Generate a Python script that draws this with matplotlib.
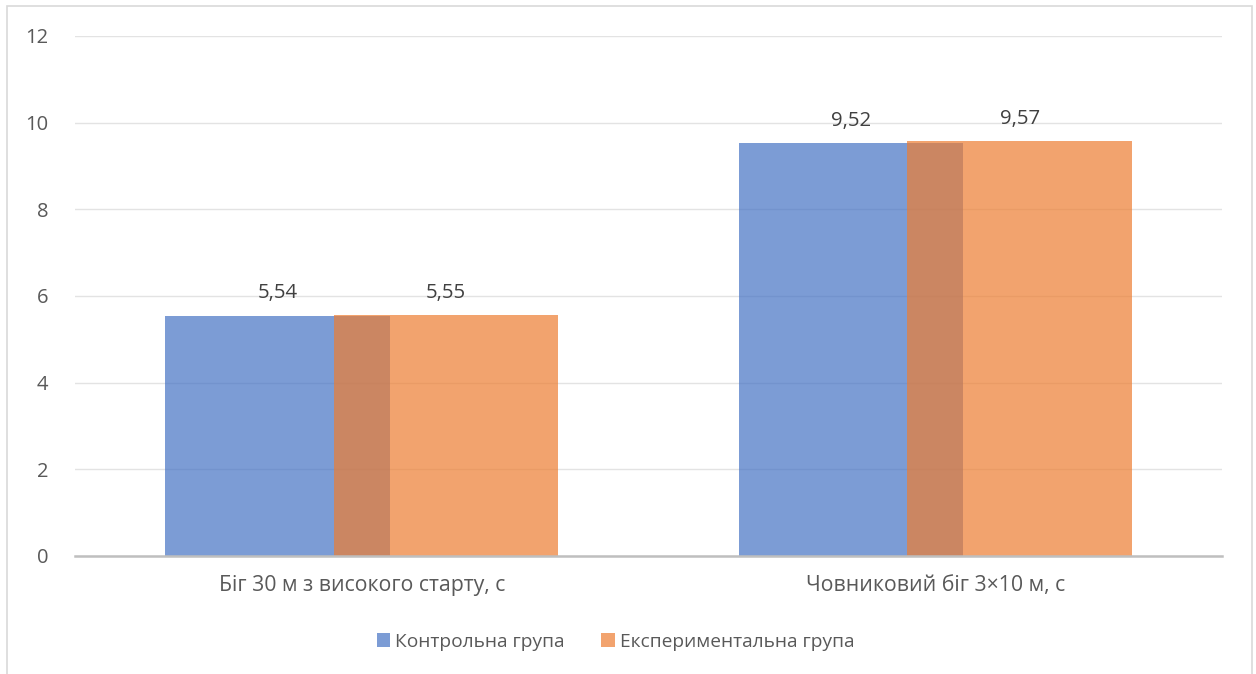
import matplotlib.pyplot as plt
import matplotlib.patches as mpatches
import numpy as np

plt.rcParams['font.family'] = ['Open Sans', 'DejaVu Sans']

# data
categories = ['Біг 30 м з високого старту, с', 'Човниковий біг 3×10 м, с']
series_names = ['Контрольна група', 'Експериментальна група']
control = [5.54, 9.52]
experimental = [5.55, 9.57]
y_ticks = [0, 2, 4, 6, 8, 10, 12]

colors = ['#4472C4', '#ED7D31']
alpha = 0.7
width = 0.392
offset = 0.147

fig = plt.figure(figsize=(12.56, 6.74), dpi=100)
ax = fig.add_axes([0.0597, 0.1751, 0.9133, 0.7715])

x = np.arange(len(categories))
b1 = ax.bar(x - offset, control, width, color=colors[0], alpha=alpha,
            label=series_names[0], zorder=2)
b2 = ax.bar(x + offset, experimental, width, color=colors[1], alpha=alpha,
            label=series_names[1], zorder=3)

# value labels with comma decimal separator
for bars, vals in [(b1, control), (b2, experimental)]:
    for rect, v in zip(bars, vals):
        ax.annotate(('%.2f' % v).replace('.', ','),
                    (rect.get_x() + rect.get_width() / 2, v),
                    xytext=(0, 9), textcoords='offset points',
                    ha='center', va='bottom', fontsize=14.7, color='#404040')

ax.set_xlim(-0.5, 1.5)
ax.set_ylim(0, 12)
ax.set_yticks(y_ticks)
ax.set_yticklabels([str(t) for t in y_ticks])
ax.set_xticks(x)
ax.set_xticklabels(categories)
ax.tick_params(axis='both', length=0, labelsize=14.5, labelcolor='#595959')
ax.tick_params(axis='x', labelsize=15.3, pad=14)
ax.tick_params(axis='y', pad=19)

ax.yaxis.grid(True, color='#E3E3E3', linewidth=1.0, zorder=0)
ax.set_axisbelow(True)
for s in ['top', 'right', 'left']:
    ax.spines[s].set_visible(False)
ax.spines['bottom'].set_color('#BFBFBF')
ax.spines['bottom'].set_linewidth(1.8)
ax.spines['bottom'].set_zorder(4)

# legend with square markers
handles = [mpatches.Patch(facecolor=c, edgecolor='none', alpha=alpha) for c in colors]
fig.legend(handles, series_names, loc='center', bbox_to_anchor=(0.49, 0.048),
           ncol=2, frameon=False, fontsize=13.8, labelcolor='#595959',
           handlelength=0.72, handleheight=0.72, handletextpad=0.25,
           columnspacing=1.9)

# outer chart border
fig.patches.append(mpatches.Rectangle((0.0056, -0.05), 0.9912, 1.041,
                                      transform=fig.transFigure, fill=False,
                                      edgecolor='#D9D9D9', linewidth=1.2))

fig.savefig('out.png', dpi=100)
